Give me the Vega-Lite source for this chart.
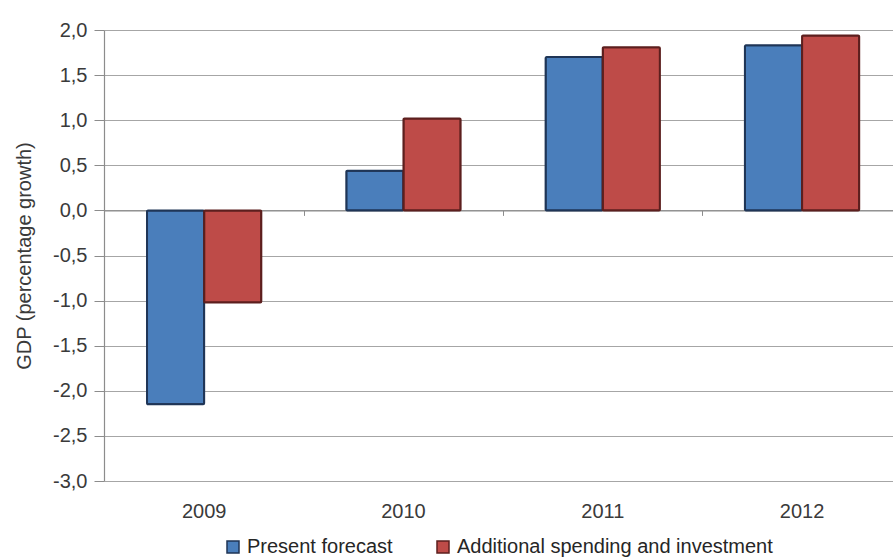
{
  "$schema": "https://vega.github.io/schema/vega-lite/v6.json",
  "autosize": {"type": "none"},
  "width": 789,
  "height": 451,
  "padding": {"left": 104, "top": 30, "right": 0, "bottom": 77},
  "background": "white",
  "config": {
    "font": "Liberation Sans",
    "view": {"stroke": null},
    "axis": {"labelFont": "Liberation Sans", "titleFont": "Liberation Sans", "labelColor": "#3a3a3a", "titleColor": "#3a3a3a", "labelFontSize": 20, "titleFontSize": 20, "titleFontWeight": "normal"}
  },
  "data": {
    "values": [
      {"year": "2009", "series": "Present forecast", "value": -2.15},
      {"year": "2009", "series": "Additional spending and investment", "value": -1.02},
      {"year": "2010", "series": "Present forecast", "value": 0.44},
      {"year": "2010", "series": "Additional spending and investment", "value": 1.02},
      {"year": "2011", "series": "Present forecast", "value": 1.7},
      {"year": "2011", "series": "Additional spending and investment", "value": 1.81},
      {"year": "2012", "series": "Present forecast", "value": 1.83},
      {"year": "2012", "series": "Additional spending and investment", "value": 1.94}
    ]
  },
  "resolve": {"axis": {"x": "independent"}},
  "layer": [
    {
      "mark": {"type": "tick", "opacity": 0},
      "encoding": {
        "x": {
          "field": "year", "type": "nominal",
          "scale": {"paddingInner": 0.4265, "paddingOuter": 0.1927, "align": 0.56},
          "axis": {"orient": "bottom", "offset": -270.6, "labels": false, "title": null, "grid": false, "domain": true, "domainColor": "#8c8c8c", "domainWidth": 1.2, "ticks": true, "tickOffset": 99.65, "tickColor": "#8c8c8c", "tickSize": 5}
        },
        "y": {"field": "value", "type": "quantitative"}
      }
    },
    {
      "mark": {"type": "bar", "strokeWidth": 2, "cornerRadius": 1},
      "encoding": {
        "x": {
          "field": "year", "type": "nominal",
          "scale": {"paddingInner": 0.4265, "paddingOuter": 0.1927, "align": 0.56},
          "axis": {"orient": "bottom", "labelAngle": 0, "title": null, "domain": false, "ticks": false, "grid": false, "labelPadding": 20}
        },
        "xOffset": {
          "field": "series", "type": "nominal",
          "sort": ["Present forecast", "Additional spending and investment"],
          "scale": {"paddingInner": 0, "paddingOuter": 0}
        },
        "y": {
          "field": "value", "type": "quantitative",
          "scale": {"domain": [-3, 2], "nice": false, "zero": false},
          "axis": {
            "title": "GDP (percentage growth)",
            "values": [-3, -2.5, -2, -1.5, -1, -0.5, 0, 0.5, 1, 1.5, 2],
            "labelExpr": "replace(replace(format(datum.value, '.1f'), '.', ','), '\u2212', '-')",
            "grid": true, "gridColor": "#a6a6a6", "gridWidth": 1.2,
            "domain": true, "domainColor": "#8c8c8c", "domainWidth": 1.2,
            "tickColor": "#8c8c8c", "tickSize": 10, "labelPadding": 7,
            "titlePadding": 18
          }
        },
        "color": {
          "field": "series", "type": "nominal",
          "sort": ["Present forecast", "Additional spending and investment"],
          "scale": {"domain": ["Present forecast", "Additional spending and investment"], "range": ["#4a7ebb", "#be4b48"]},
          "legend": {
            "orient": "none", "direction": "horizontal", "title": null,
            "legendX": 119, "legendY": 507,
            "symbolType": "square", "symbolSize": 144, "symbolStrokeWidth": 1.5,
            "labelFont": "Liberation Sans", "labelFontSize": 20, "labelColor": "#262626", "labelOffset": 4, "labelLimit": 600, "columnPadding": 40
          }
        },
        "stroke": {
          "field": "series", "type": "nominal",
          "sort": ["Present forecast", "Additional spending and investment"],
          "scale": {"domain": ["Present forecast", "Additional spending and investment"], "range": ["#1f3556", "#5c1f1e"]},
          "legend": {
            "orient": "none", "direction": "horizontal", "title": null,
            "legendX": 119, "legendY": 507,
            "symbolType": "square", "symbolSize": 144, "symbolStrokeWidth": 1.5,
            "labelFont": "Liberation Sans", "labelFontSize": 20, "labelColor": "#262626", "labelOffset": 4, "labelLimit": 600, "columnPadding": 40
          }
        }
      }
    }
  ]
}
